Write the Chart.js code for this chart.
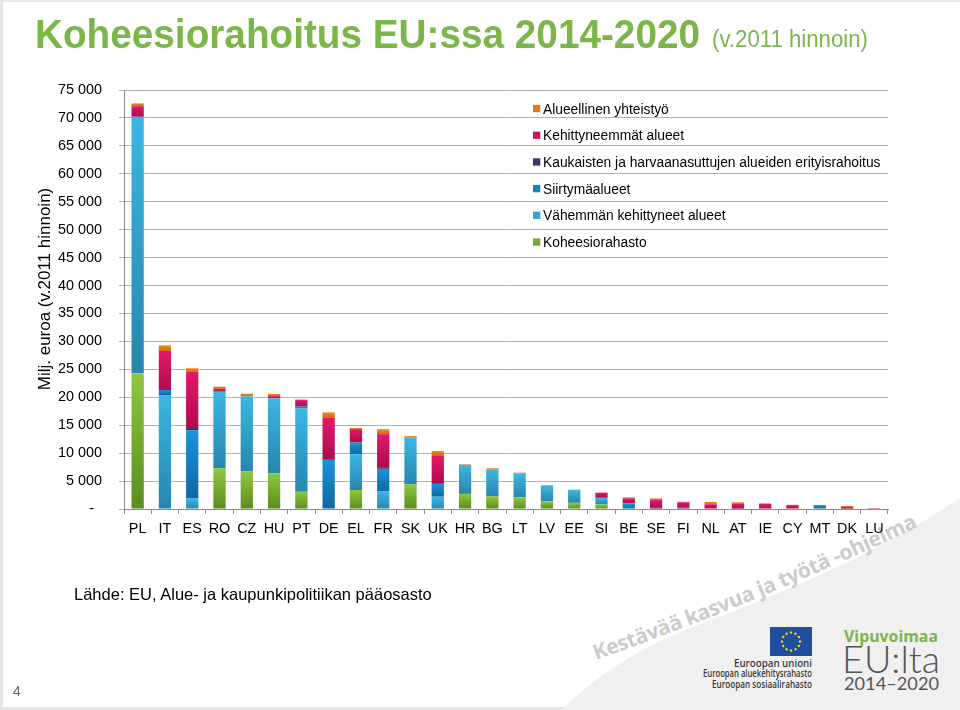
<!DOCTYPE html>
<html><head><meta charset="utf-8">
<script src="https://cdn.jsdelivr.net/npm/chart.js@4.4.1/dist/chart.umd.min.js"></script>
<style>
html,body{margin:0;padding:0;background:#e6e6e6;width:960px;height:710px;overflow:hidden;}
#page{position:absolute;left:3px;top:2px;width:957px;height:705px;background:#fff;}
#wrap{position:absolute;left:0;top:0;width:960px;height:710px;}
#wrap svg,#wrap canvas{position:absolute;left:0;top:0;}
</style></head><body>
<div id="page"></div>
<div id="wrap">
<svg id="back" width="960" height="710" xmlns="http://www.w3.org/2000/svg">
  <path d="M 960 498 C 880 552, 790 590, 700 624 C 640 647, 592 678, 562 710 L 960 710 Z" fill="#f0f0f0"/>
  <path id="tp" d="M 596 660 Q 760 602 928 522" fill="none"/>
  <text font-family="Open Sans, DejaVu Sans, sans-serif" font-weight="700" font-size="21" fill="#cbcbcb" letter-spacing="1">
    <textPath href="#tp" textLength="350" lengthAdjust="spacing">Kestävää kasvua ja työtä -ohjelma</textPath>
  </text>
  <rect x="770" y="627" width="42" height="29" fill="#1f4e9e"/>
  <g id="stars" fill="#f5d316"></g>
  <g font-family="Open Sans, sans-serif" font-weight="600" font-size="10" fill="#3a3a3a" text-anchor="end">
    <text x="812" y="666.5" textLength="78" lengthAdjust="spacingAndGlyphs">Euroopan unioni</text>
    <text x="812" y="677" textLength="109" lengthAdjust="spacingAndGlyphs">Euroopan aluekehitysrahasto</text>
    <text x="812" y="688" textLength="100" lengthAdjust="spacingAndGlyphs">Euroopan sosiaalirahasto</text>
  </g>
  <text x="844" y="642" font-family="Open Sans, sans-serif" font-weight="700" font-size="16.5" fill="#7ab648" textLength="94" lengthAdjust="spacingAndGlyphs">Vipuvoimaa</text>
  <text x="842" y="673" font-family="Lato, Open Sans, sans-serif" font-weight="300" font-size="37" fill="#555" textLength="98" lengthAdjust="spacingAndGlyphs">EU:lta</text>
  <text x="844" y="690" font-family="Lato, Open Sans, sans-serif" font-weight="400" font-size="16.5" fill="#555" textLength="95" lengthAdjust="spacingAndGlyphs">2014–2020</text>
</svg>
<canvas id="c" width="960" height="710"></canvas>
<svg id="front" width="960" height="710" xmlns="http://www.w3.org/2000/svg">
  <text x="35" y="47.5" font-family="Liberation Sans, Arial, sans-serif" font-weight="700" font-size="41" fill="#7ab648" textLength="665" lengthAdjust="spacingAndGlyphs">Koheesiorahoitus EU:ssa 2014-2020</text>
  <text x="712" y="47" font-family="Liberation Sans, Arial, sans-serif" font-size="23" fill="#7ab648" textLength="156" lengthAdjust="spacingAndGlyphs">(v.2011 hinnoin)</text>
  <text transform="translate(50,289) rotate(-90)" text-anchor="middle" font-family="Liberation Sans, Arial, sans-serif" font-size="17" fill="#000">Milj. euroa (v.2011 hinnoin)</text>
  <text x="74" y="600" font-family="Liberation Sans, Arial, sans-serif" font-size="16.5" fill="#000">Lähde: EU, Alue- ja kaupunkipolitiikan pääosasto</text>
  <text x="13" y="696" font-family="Liberation Sans, Arial, sans-serif" font-size="14" fill="#666">4</text>
  <g id="legend"></g>
</svg>
</div>
<script>
// ---- data (milj. euroa, v.2011 hinnoin) ----
const categories = ['PL','IT','ES','RO','CZ','HU','PT','DE','EL','FR','SK','UK','HR','BG','LT','LV','EE','SI','BE','SE','FI','NL','AT','IE','CY','MT','DK','LU'];
const koheesiorahasto      = [24300,0,0,7300,6700,6400,3100,0,3400,0,4400,0,2700,2300,2100,1400,1100,800,0,0,0,0,0,0,0,0,0,0];
const vahemmanKehittyneet  = [45900,20400,1900,13700,13500,13400,14900,0,6400,3200,8400,2200,5200,4800,4300,2800,2300,1200,0,0,0,0,0,0,0,0,0,0];
const siirtymaalueet       = [0,900,12200,0,0,0,300,8800,2100,4000,0,2300,0,0,0,0,0,0,1000,0,0,0,70,0,0,700,70,0];
const kaukaistenAlueiden   = [0,0,400,0,0,0,100,0,0,300,0,0,0,0,0,0,0,0,0,200,300,0,0,0,0,0,0,0];
const kehittyneemmat       = [1900,7000,10100,500,100,400,1100,7600,2400,5900,50,5100,0,0,0,0,0,900,900,1400,900,850,930,950,700,0,300,20];
const alueellinenYhteistyo = [500,1000,600,400,350,400,100,900,200,900,200,800,100,200,100,100,50,50,200,300,100,400,200,50,50,20,170,10];

const seriesNames = ['Koheesiorahasto','Vähemmän kehittyneet alueet','Siirtymäalueet','Kaukaisten ja harvaanasuttujen alueiden erityisrahoitus','Kehittyneemmät alueet','Alueellinen yhteistyö'];
const seriesData = [koheesiorahasto, vahemmanKehittyneet, siirtymaalueet, kaukaistenAlueiden, kehittyneemmat, alueellinenYhteistyo];
const flatColors = ['#72a934','#35a7d4','#1582c5','#40316c','#d0155f','#e3781c'];
const lightColors = ['#8fc740','#3cb6e4','#1b93db','#4a3a7c','#e4186b','#f28e20'];
const darkColors  = ['#5a8c1e','#2886ad','#0f67a2','#2f2258','#ad0c4d','#cf6808'];

function grad(k){
  return (ctx) => {
    const chart = ctx.chart;
    if (ctx.type !== 'data' || !chart.chartArea || !chart.scales || !chart.scales.y) return flatColors[k];
    const i = ctx.dataIndex;
    let base = 0;
    for (let d = 0; d < k; d++) base += seriesData[d][i] || 0;
    const top = base + (seriesData[k][i] || 0);
    const y = chart.scales.y;
    const y0 = y.getPixelForValue(base), y1 = y.getPixelForValue(top);
    if (!isFinite(y0) || !isFinite(y1) || Math.abs(y0 - y1) < 1) return flatColors[k];
    const g = chart.ctx.createLinearGradient(0, y1, 0, y0);
    g.addColorStop(0, lightColors[k]);
    g.addColorStop(1, darkColors[k]);
    return g;
  };
}

const datasets = seriesData.map((d, k) => ({
  label: seriesNames[k],
  data: d,
  backgroundColor: grad(k),
  borderWidth: 0,
  barPercentage: 0.45,
  categoryPercentage: 1.0
}));

function fmt(v){
  if (v === 0) return '-  ';
  return String(v).replace(/\B(?=(\d{3})+(?!\d))/g, ' ');
}

const FONT = 'Liberation Sans, Arial, sans-serif';
new Chart(document.getElementById('c'), {
  type: 'bar',
  data: { labels: categories, datasets },
  options: {
    responsive: false,
    animation: false,
    devicePixelRatio: 1,
    layout: { padding: { left: 0, top: 90, right: 72, bottom: 171 } },
    plugins: { legend: { display: false }, tooltip: { enabled: false }, title: { display: false } },
    scales: {
      x: {
        stacked: true,
        grid: { display: true, drawOnChartArea: false, drawTicks: true, tickLength: 5, color: '#8c8c8c', offset: true },
        border: { color: '#8c8c8c' },
        ticks: { color: '#000', font: { family: FONT, size: 14.4 }, padding: 6, maxRotation: 0, autoSkip: false },
        afterFit: s => { s.height = 30; }
      },
      y: {
        stacked: true, min: 0, max: 75000,
        ticks: { stepSize: 5000, callback: fmt, color: '#000', font: { family: FONT, size: 14.4 }, padding: 17 },
        grid: { color: '#b3b3b3', tickLength: 5, lineWidth: 1 },
        border: { color: '#8c8c8c' },
        afterFit: s => { s.width = 124; }
      }
    }
  }
});

// legend (reverse order, as in the original)
const NS = 'http://www.w3.org/2000/svg';
const lg = document.getElementById('legend');
const order = [5,4,3,2,1,0];
order.forEach((k, r) => {
  const cy = 108.5 + r * 26.7;
  const rect = document.createElementNS(NS, 'rect');
  rect.setAttribute('x', 533); rect.setAttribute('y', cy - 3.6);
  rect.setAttribute('width', 7.3); rect.setAttribute('height', 7.3);
  rect.setAttribute('fill', flatColors[k]);
  lg.appendChild(rect);
  const t = document.createElementNS(NS, 'text');
  t.setAttribute('x', 543); t.setAttribute('y', cy + 5);
  t.setAttribute('font-family', FONT); t.setAttribute('font-size', '13.8'); t.setAttribute('fill', '#000');
  t.textContent = seriesNames[k];
  lg.appendChild(t);
});

// EU flag stars
const st = document.getElementById('stars');
for (let s = 0; s < 12; s++) {
  const a = s * Math.PI / 6;
  const c = document.createElementNS(NS, 'circle');
  c.setAttribute('cx', 791 + 9 * Math.cos(a)); c.setAttribute('cy', 641.5 + 9 * Math.sin(a));
  c.setAttribute('r', 1.2);
  st.appendChild(c);
}
</script>
</body></html>
